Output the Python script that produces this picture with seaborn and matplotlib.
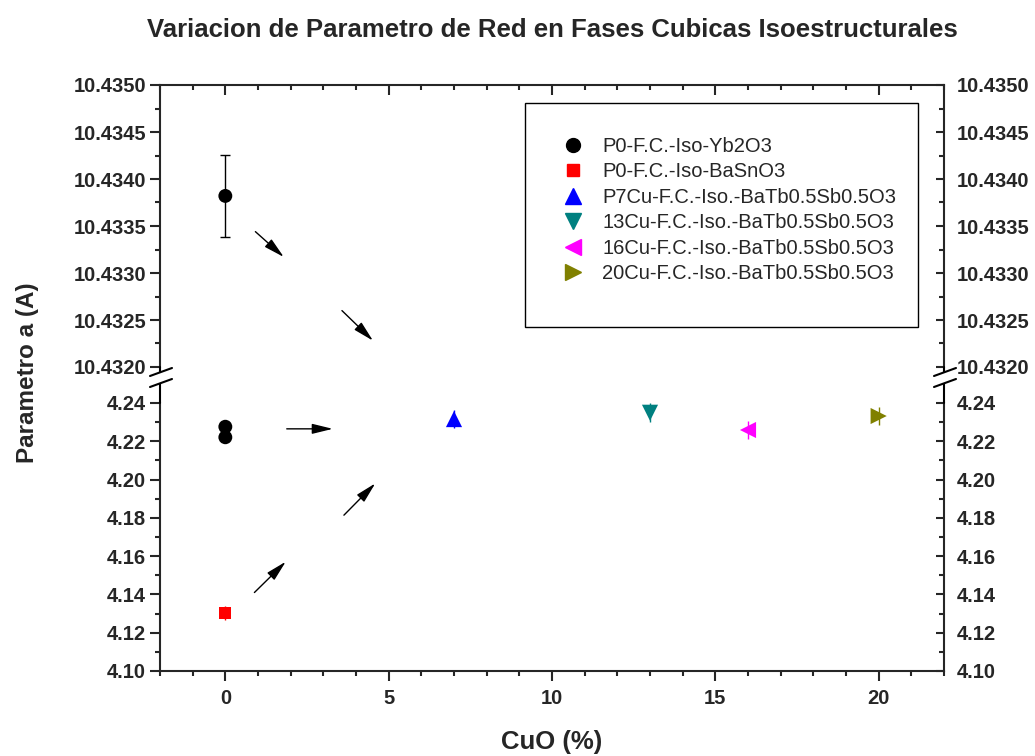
import numpy as np
import pandas as pd
import matplotlib
matplotlib.use("Agg")
import matplotlib.pyplot as plt
from matplotlib.lines import Line2D
from matplotlib.patches import Rectangle
from matplotlib.ticker import MultipleLocator, FormatStrFormatter, FixedLocator
import seaborn as sns

# ---- data -------------------------------------------------------------
series_names = [
    "P0-F.C.-Iso-Yb2O3",
    "P0-F.C.-Iso-BaSnO3",
    "P7Cu-F.C.-Iso.-BaTb0.5Sb0.5O3",
    "13Cu-F.C.-Iso.-BaTb0.5Sb0.5O3",
    "16Cu-F.C.-Iso.-BaTb0.5Sb0.5O3",
    "20Cu-F.C.-Iso.-BaTb0.5Sb0.5O3",
]
series_colors = ["#000000", "#FF0000", "#0000FF", "#008080", "#FF00FF", "#808000"]
series_markers = ["o", "s", "^", "v", "<", ">"]
series_marker_area = [100, 74, 135, 135, 135, 135]

point_series = [0, 0, 0, 1, 2, 3, 4, 5]
cuo_percent = [0, 0, 0, 0, 7, 13, 16, 20]
lattice_a = [10.43382, 4.2276, 4.2221, 4.1303, 4.2316, 4.2349, 4.2259, 4.2332]
lattice_err = [0.00044, 0.0, 0.0, 0.0035, 0.0045, 0.0050, 0.0045, 0.0045]

# arrows (tail x, tail y, head x, head y) for each panel
arrows_upper = [
    (0.92, 10.43344, 1.79, 10.43317),
    (3.57, 10.43260, 4.52, 10.43228),
]
arrows_lower = [
    (1.88, 4.2265, 3.29, 4.2265),
    (3.63, 4.1814, 4.59, 4.1980),
    (0.89, 4.1410, 1.85, 4.1571),
]

x_ticks = [0, 5, 10, 15, 20]
upper_ticks = [10.4320, 10.4325, 10.4330, 10.4335, 10.4340, 10.4345, 10.4350]
lower_ticks = [4.10, 4.12, 4.14, 4.16, 4.18, 4.20, 4.22, 4.24]

df = pd.DataFrame({
    "serie": [series_names[i] for i in point_series],
    "CuO": cuo_percent,
    "a": lattice_a,
    "err": lattice_err,
})

# ---- style -------------------------------------------------------------
sns.set_theme(style="ticks")
plt.rcParams["font.family"] = ["Liberation Sans", "DejaVu Sans"]
plt.rcParams["font.weight"] = "bold"
plt.rcParams["axes.linewidth"] = 1.5

W, H = 1035, 756
fig = plt.figure(figsize=(W / 100, H / 100), dpi=100)

def fx(px):
    return px / W

def fy(py):
    return 1 - py / H

left, right = 160, 944
ax_top = fig.add_axes([fx(left), fy(367), fx(right - left), fy(85) - fy(367)])
ax_bot = fig.add_axes([fx(left), fy(671), fx(right - left), fy(403) - fy(671)])

palette = dict(zip(series_names, series_colors))
marker_map = dict(zip(series_names, series_markers))
size_map = dict(zip(series_names, series_marker_area))

for ax in (ax_top, ax_bot):
    for _, r in df.iterrows():
        if r["err"] > 0:
            ax.errorbar(r["CuO"], r["a"], yerr=r["err"], fmt="none",
                        ecolor=palette[r["serie"]], elinewidth=1.0,
                        capsize=3.5 if r["serie"] == series_names[0] else 0,
                        capthick=1.0, zorder=2)
    sns.scatterplot(data=df, x="CuO", y="a", hue="serie", style="serie",
                    size="serie", palette=palette, markers=marker_map,
                    sizes=size_map, linewidth=0, legend=False, ax=ax,
                    zorder=3)
    ax.set_xlim(-2, 22)
    ax.set_xlabel("")
    ax.set_ylabel("")
    ax.xaxis.set_major_locator(FixedLocator(x_ticks))
    ax.xaxis.set_minor_locator(MultipleLocator(1))

ax_top.set_ylim(10.4320, 10.4350)
ax_bot.set_ylim(4.10, 4.24)

ax_top.yaxis.set_major_locator(FixedLocator(upper_ticks))
ax_top.yaxis.set_minor_locator(MultipleLocator(0.00025))
ax_top.yaxis.set_major_formatter(FormatStrFormatter("%.4f"))
ax_bot.yaxis.set_major_locator(FixedLocator(lower_ticks))
ax_bot.yaxis.set_minor_locator(MultipleLocator(0.01))
ax_bot.yaxis.set_major_formatter(FormatStrFormatter("%.2f"))

tick_font = 14.5
for ax in (ax_top, ax_bot):
    ax.tick_params(axis="y", which="both", left=True, right=False,
                   direction="out", width=1.5, labelsize=tick_font, pad=3)
    ax.tick_params(axis="y", which="major", length=7)
    ax.tick_params(axis="y", which="minor", length=3.5)
    for lab in ax.get_yticklabels():
        lab.set_fontweight("bold")

ax_top.spines["bottom"].set_visible(False)
ax_top.spines["right"].set_visible(False)
ax_top.tick_params(axis="x", which="both", bottom=False, labelbottom=False,
                   top=True, direction="in", width=1.5)
ax_top.tick_params(axis="x", which="major", length=7)
ax_top.tick_params(axis="x", which="minor", length=3.5)

ax_bot.spines["top"].set_visible(False)
ax_bot.spines["right"].set_visible(False)
ax_bot.tick_params(axis="x", which="both", bottom=True, top=False,
                   direction="out", width=1.5, labelsize=tick_font, pad=6)
ax_bot.tick_params(axis="x", which="major", length=7)
ax_bot.tick_params(axis="x", which="minor", length=3.5)
for lab in ax_bot.get_xticklabels():
    lab.set_fontweight("bold")

# right-hand axis with inward ticks and mirrored labels
for ax, ticks, fmt, minor in ((ax_top, upper_ticks, "%.4f", 0.00025),
                              (ax_bot, lower_ticks, "%.2f", 0.01)):
    sec = ax.secondary_yaxis("right")
    sec.set_yticks(ticks)
    sec.yaxis.set_minor_locator(MultipleLocator(minor))
    sec.yaxis.set_major_formatter(FormatStrFormatter(fmt))
    sec.tick_params(axis="y", which="both", direction="in", width=1.5,
                    labelsize=tick_font, pad=9)
    sec.tick_params(axis="y", which="major", length=6)
    sec.tick_params(axis="y", which="minor", length=3.5)
    sec.spines["right"].set_linewidth(1.5)
    for lab in sec.get_yticklabels():
        lab.set_fontweight("bold")

# arrows
arrow_props = dict(arrowstyle="-|>,head_length=0.9,head_width=0.22",
                   color="black", lw=1.0, mutation_scale=14,
                   shrinkA=0, shrinkB=0)
for ax, arrows in ((ax_top, arrows_upper), (ax_bot, arrows_lower)):
    for x0, y0, x1, y1 in arrows:
        ax.annotate("", xy=(x1, y1), xytext=(x0, y0), xycoords="data",
                    textcoords="data", arrowprops=arrow_props)

# axis break: spine pieces and slashes on both sides
for xs in (left, right):
    fig.add_artist(Line2D([fx(xs), fx(xs)], [fy(367), fy(372.5)],
                          color="black", lw=1.5, transform=fig.transFigure))
    fig.add_artist(Line2D([fx(xs), fx(xs)], [fy(383.5), fy(403)],
                          color="black", lw=1.5, transform=fig.transFigure))
    for dy in (0, 11):
        fig.add_artist(Line2D([fx(xs - 10), fx(xs + 12)],
                              [fy(376 + dy), fy(368 + dy)],
                              color="black", lw=1.5,
                              transform=fig.transFigure))

# legend box and entries
fig.add_artist(Rectangle((fx(525), fy(327)), fx(918 - 525), fy(103) - fy(327),
                         transform=fig.transFigure, fill=False,
                         edgecolor="black", lw=1.0))
handles = [Line2D([], [], linestyle="none", marker=m, color=c,
                  markersize=np.sqrt(s))
           for m, c, s in zip(series_markers, series_colors, series_marker_area)]
leg = fig.legend(handles, series_names, loc="upper left",
                 bbox_to_anchor=(fx(563), fy(137)), frameon=False,
                 prop=dict(family="Liberation Sans", size=14.5, weight="normal"),
                 handlelength=1.0, handletextpad=0.95, labelspacing=0.32,
                 borderpad=0, borderaxespad=0)

# titles
fig.text(fx(552), fy(30), "Variacion de Parametro de Red en Fases Cubicas Isoestructurales",
         ha="center", va="center", fontsize=18.5, fontweight="bold")
fig.text(fx(552), fy(742), "CuO (%)", ha="center", va="center",
         fontsize=18.5, fontweight="bold")
fig.text(fx(28), fy(373), "Parametro a (A)", ha="center", va="center",
         rotation=90, fontsize=17.5, fontweight="bold")

fig.savefig("out.png", dpi=100)
